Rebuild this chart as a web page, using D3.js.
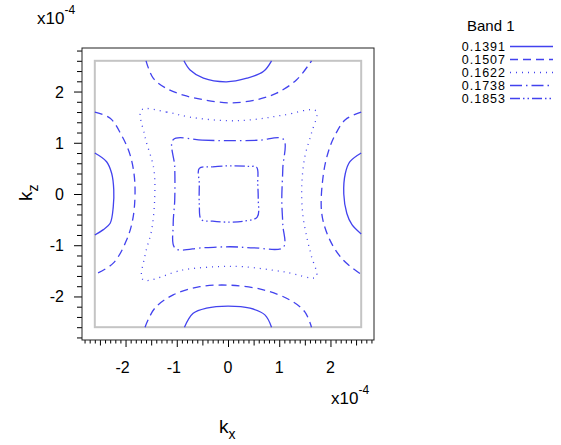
<!DOCTYPE html>
<html lang="en">
<head>
	<meta charset="UTF-8">
	<title>Band 1 contours</title>
	<script src="https://cdn.jsdelivr.net/npm/d3@7"></script>
	<style>
		*{
			margin: 0px;
			box-sizing: border-box;
		}
		html,body{
			width: 561px;
			height: 445px;
			overflow: hidden;
			background: #fff;
		}
		text{
			font-family: Arial, "Liberation Sans", sans-serif;
			fill: #000;
		}
		.axis path{
			stroke: none;
		}
		.axis line{
			stroke: #000;
		}
		.contour{
			fill: none;
			stroke: #4242ee;
			stroke-width: 1.3;
		}
	</style>
</head>
<body>
	<svg id="svg"></svg>
	<script>
		// contour levels of band 1 and their dash styles
		var levels = ["0.1391", "0.1507", "0.1622", "0.1738", "0.1853"];
		var dashes = ["", "8,5", "1,5", "12,4,1.5,4", "10,3,1.5,3,1.5,3"];

		// kx, kz in units of 1e-4
		var c1391 = [
			[[-0.86,2.6],[-0.74,2.42],[-0.48,2.26],[-0.03,2.19],[0.37,2.26],[0.69,2.39],[0.85,2.6]],
			[[-0.85,-2.6],[-0.68,-2.33],[-0.42,-2.23],[0,-2.19],[0.43,-2.23],[0.72,-2.36],[0.85,-2.6]],
			[[-2.6,0.8],[-2.37,0.63],[-2.27,0.4],[-2.23,0.08],[-2.24,-0.25],[-2.3,-0.57],[-2.44,-0.7],[-2.6,-0.8]],
			[[2.6,0.8],[2.38,0.63],[2.29,0.4],[2.26,0.0],[2.32,-0.38],[2.42,-0.6],[2.6,-0.78]]
		];
		var c1507 = [
			[[-1.6,2.6],[-1.46,2.26],[-1.2,2.06],[-0.87,1.93],[-0.48,1.84],[0.04,1.78],[0.56,1.84],[0.95,1.97],[1.34,2.23],[1.63,2.6]],
			[[-1.62,-2.6],[-1.43,-2.23],[-1.07,-1.97],[-0.55,-1.81],[0.04,-1.78],[0.69,-1.87],[1.21,-2.07],[1.5,-2.3],[1.63,-2.6]],
			[[-2.6,1.6],[-2.3,1.48],[-2.08,1.15],[-1.91,0.76],[-1.82,0.24],[-1.85,-0.44],[-1.98,-0.9],[-2.24,-1.35],[-2.6,-1.57]],
			[[2.6,1.6],[2.29,1.45],[2.09,1.15],[1.96,0.83],[1.86,0.37],[1.83,-0.38],[1.99,-0.9],[2.25,-1.29],[2.6,-1.57]]
		];
		var c1622 = [
			[[-1.69,1.64],[-1.2,1.6],[-0.74,1.5],[0,1.43],[0.56,1.46],[1.08,1.54],[1.72,1.62],[1.63,1.19],[1.5,0.73],
			 [1.44,0.15],[1.46,-0.4],[1.55,-0.9],[1.63,-1.22],[1.72,-1.62],[1.1,-1.52],[0.3,-1.42],[-0.22,-1.42],
			 [-0.87,-1.48],[-1.66,-1.67],[-1.62,-1.2],[-1.49,-0.7],[-1.43,-0.05],[-1.45,0.5],[-1.62,1.12]]
		];
		var c1738 = [
			[[-1.07,1.06],[-0.5,1.05],[0.04,1.04],[0.6,1.05],[1.08,1.07],[1.07,0.5],[1.05,-0.12],[1.07,-0.6],
			 [1.08,-1.04],[0.5,-1.05],[0.04,-1.03],[-0.5,-1.05],[-1.03,-1.06],[-1.07,-0.6],[-1.04,-0.12],[-1.04,0.53]]
		];
		var c1853 = [
			[[-0.56,0.5],[-0.3,0.53],[0.04,0.55],[0.4,0.54],[0.56,0.52],[0.58,0.2],[0.59,-0.1],[0.57,-0.45],
			 [0.3,-0.53],[0.04,-0.55],[-0.3,-0.53],[-0.52,-0.5],[-0.56,-0.2],[-0.56,0.2]]
		];
		var closedLevels = [false, false, true, true, true];

		var xTicks = [-2, -1, 0, 1, 2];
		var yTicks = [-2, -1, 0, 1, 2];

		var w = 561, h = 445,
			svg = d3.select("#svg").attr("width", w).attr("height", h);

		var x = d3.scaleLinear().domain([-2.85, 2.85]).range([82, 374]),
			y = d3.scaleLinear().domain([-2.85, 2.85]).range([340, 48]);

		// ticks
		var xMinor = d3.range(-28, 29).map(function(d) { return d / 10; });
		var yMinor = d3.range(-14, 15).map(function(d) { return d / 5; });

		var gx = svg.append("g").attr("class", "axis")
			.attr("transform", "translate(0,340)")
			.call(d3.axisBottom(x).tickValues(xMinor).tickSize(3.5).tickFormat(""));
		gx.selectAll(".tick line").attr("y2", function(d) {
			var r = Math.round(d * 10);
			if (r % 10 == 0) return 7;
			if (r % 5 == 0) return 5.5;
			return 3.5;
		});
		var gy = svg.append("g").attr("class", "axis")
			.attr("transform", "translate(82,0)")
			.call(d3.axisLeft(y).tickValues(yMinor).tickSize(5).tickFormat(""));
		gy.selectAll(".tick line").attr("x2", function(d) {
			return Math.abs(d - Math.round(d)) < 1e-6 ? -8 : -5;
		});

		function fmt(d) { return d < 0 ? "-" + Math.abs(d) : d; }

		svg.append("g").selectAll("text").data(xTicks).enter().append("text")
			.attr("x", function(d) { return d < 0 ? x(d) - 3 : x(d); })
			.attr("y", 373)
			.attr("text-anchor", "middle")
			.style("font-size", "16px")
			.text(fmt);
		svg.append("g").selectAll("text").data(yTicks).enter().append("text")
			.attr("x", 64)
			.attr("y", function(d) { return y(d) + 6; })
			.attr("text-anchor", "end")
			.style("font-size", "16px")
			.text(fmt);

		// frame
		svg.append("rect")
			.attr("x", x(-2.85)).attr("y", y(2.85))
			.attr("width", x(2.85) - x(-2.85)).attr("height", y(-2.85) - y(2.85))
			.attr("fill", "none").attr("stroke", "#222").attr("stroke-width", 1);
		svg.append("rect")
			.attr("x", x(-2.6)).attr("y", y(2.6))
			.attr("width", x(2.6) - x(-2.6)).attr("height", y(-2.6) - y(2.6))
			.attr("fill", "none").attr("stroke", "#c4c4c4").attr("stroke-width", 2);

		// contours
		var openLine = d3.line()
			.x(function(d) { return x(d[0]); })
			.y(function(d) { return y(d[1]); })
			.curve(d3.curveCatmullRom.alpha(0.5));
		var closedLine = d3.line()
			.x(function(d) { return x(d[0]); })
			.y(function(d) { return y(d[1]); })
			.curve(d3.curveCatmullRomClosed.alpha(0.5));

		[c1391, c1507, c1622, c1738, c1853].forEach(function(segs, i) {
			svg.append("g").selectAll("path").data(segs).enter().append("path")
				.attr("class", "contour")
				.attr("d", closedLevels[i] ? closedLine : openLine)
				.attr("stroke-dasharray", dashes[i] || null);
		});

		// exponent labels
		var e1 = svg.append("text").attr("x", 37).attr("y", 24).style("font-size", "17px");
		e1.append("tspan").text("x10");
		e1.append("tspan").attr("dy", -10).style("font-size", "12px").text("-4");
		var e2 = svg.append("text").attr("x", 331).attr("y", 404).style("font-size", "17px");
		e2.append("tspan").text("x10");
		e2.append("tspan").attr("dy", -10).style("font-size", "12px").text("-4");

		// axis titles
		var tx = svg.append("text").attr("x", 219).attr("y", 433).style("font-size", "19px");
		tx.append("tspan").text("k");
		tx.append("tspan").attr("dy", 6).style("font-size", "14px").text("x");
		var tz = svg.append("text").attr("transform", "translate(32,201) rotate(-90)").style("font-size", "19px");
		tz.append("tspan").text("k");
		tz.append("tspan").attr("dy", 6).style("font-size", "14px").text("z");

		// legend
		svg.append("text").attr("x", 467).attr("y", 31).style("font-size", "15px").text("Band 1");
		var lg = svg.append("g").selectAll("g").data(levels).enter().append("g")
			.attr("transform", function(d, i) { return "translate(0," + (51 + i * 13) + ")"; });
		lg.append("text")
			.attr("x", 506).attr("y", 0)
			.attr("text-anchor", "end")
			.style("font-size", "12.5px")
			.style("letter-spacing", "1px")
			.text(function(d) { return d; });
		lg.append("line")
			.attr("class", "contour")
			.attr("x1", 510).attr("x2", 553)
			.attr("y1", -4.5).attr("y2", -4.5)
			.attr("stroke-dasharray", function(d, i) { return dashes[i] || null; });
	</script>
</body>
</html>
